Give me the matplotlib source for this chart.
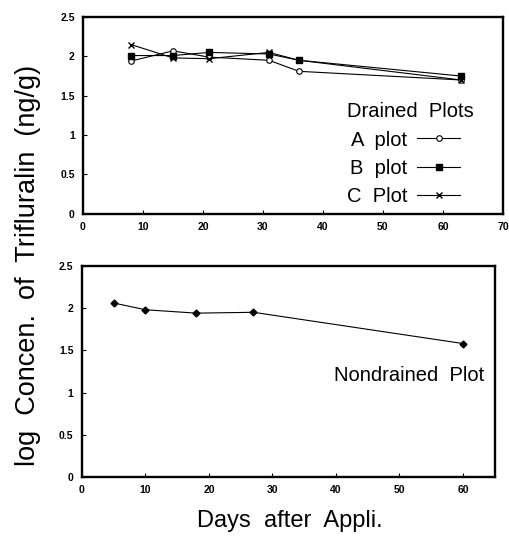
import matplotlib
matplotlib.use("Agg")
import matplotlib.pyplot as plt
from matplotlib.ticker import FuncFormatter

# Drained plots data
days_drained = [8, 15, 21, 31, 36, 63]
a_plot = [1.94, 2.07, 1.99, 1.95, 1.81, 1.70]
b_plot = [2.01, 2.01, 2.05, 2.03, 1.95, 1.75]
c_plot = [2.15, 1.98, 1.97, 2.05, 1.95, 1.70]

# Nondrained plot data
days_nondrained = [5, 10, 18, 27, 60]
nondrained = [2.06, 1.98, 1.94, 1.95, 1.58]

top_xticks = [0, 10, 20, 30, 40, 50, 60, 70]
bot_xticks = [0, 10, 20, 30, 40, 50, 60]
yticks = [0, 0.5, 1, 1.5, 2, 2.5]

plt.rcParams['font.family'] = ['Liberation Sans', 'DejaVu Sans']

fig = plt.figure(figsize=(5.09, 5.47), dpi=100)
ax1 = fig.add_axes([0.163, 0.609, 0.825, 0.360])
ax2 = fig.add_axes([0.161, 0.128, 0.811, 0.386])

fmt = FuncFormatter(lambda v, p: f"{v:g}")

for ax, xt, xmax in ((ax1, top_xticks, 70), (ax2, bot_xticks, 65)):
    ax.set_xlim(0, xmax)
    ax.set_ylim(0, 2.5)
    ax.set_xticks(xt)
    ax.set_yticks(yticks)
    ax.xaxis.set_major_formatter(fmt)
    ax.yaxis.set_major_formatter(fmt)
    ax.tick_params(direction='in', length=3, width=0.8, top=False, right=False,
                   labelsize=7.5, pad=6)
    for lab in ax.get_xticklabels() + ax.get_yticklabels():
        lab.set_fontweight('bold')
    for s in ax.spines.values():
        s.set_linewidth(1.7)

ax1.plot(days_drained, a_plot, color='black', lw=0.8, marker='o', ms=4,
         mfc='white', mec='black', mew=0.8, label='A  plot')
ax1.plot(days_drained, b_plot, color='black', lw=0.8, marker='s', ms=4.5,
         mfc='black', mec='black', label='B  plot')
ax1.plot(days_drained, c_plot, color='black', lw=0.8, marker='x', ms=5,
         mew=1.0, label='C  Plot')

leg = ax1.legend(title='Drained  Plots', markerfirst=False, frameon=False,
                 fontsize=14.5, title_fontsize=14.5, loc='lower left',
                 bbox_to_anchor=(0.59, -0.04), handlelength=2.1,
                 labelspacing=0.45, handletextpad=0.5, borderpad=0.3,
                 alignment='left')

ax2.plot(days_nondrained, nondrained, color='black', lw=0.8, marker='D', ms=3.5,
         mfc='black', mec='black')
ax2.text(0.61, 0.48, 'Nondrained  Plot', transform=ax2.transAxes,
         fontsize=14.5, ha='left', va='center')

fig.text(0.055, 0.514, 'log  Concen.  of  Trifluralin  (ng/g)', rotation=90,
         fontsize=19.5, ha='center', va='center')
fig.text(0.57, 0.048, 'Days  after  Appli.', fontsize=17, ha='center',
         va='center')

fig.savefig('out.png', dpi=100)
